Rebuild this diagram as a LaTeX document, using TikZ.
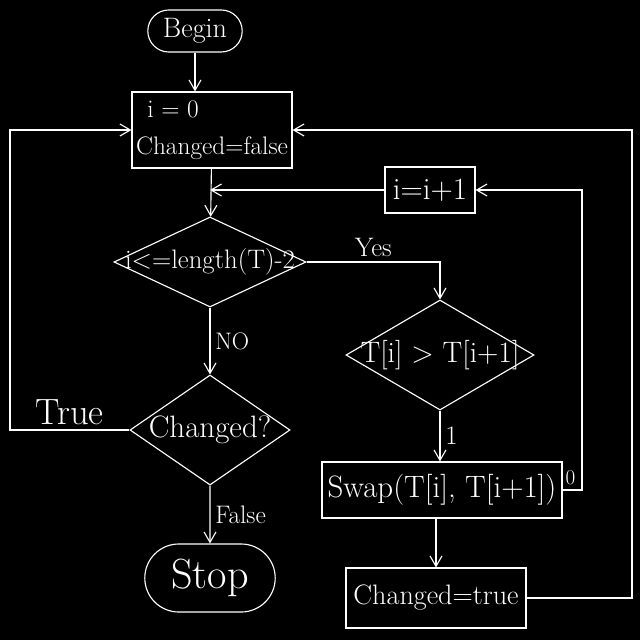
\documentclass[tikz,border=0pt]{standalone}
\usepackage{fontspec}
\usepackage{tikz}
\usetikzlibrary{arrows.meta,positioning,shapes.geometric,shapes.misc}

\newcommand{\fs}[1]{\fontsize{#1}{#1}\selectfont}

\begin{document}
\begin{tikzpicture}[
  x={(0.025cm,0)}, y={(0,-0.025cm)},
  font=\fs{19}, every node/.style={text=white},
  line width=0.8pt, draw=white,
  term/.style={draw, rounded rectangle, inner sep=2pt},
  box/.style={draw, rectangle, inner sep=4pt},
  test/.style={draw, diamond, inner sep=0pt},
  arr/.style={-{Straight Barb[length=2.6mm, width=3mm]}}]
  \fill[black] (0,0) rectangle (640,640);
  \useasboundingbox (0,0) rectangle (640,640);
  % main column
  \node[term, minimum width=2.5cm, minimum height=1.05cm, font=\fs{20}] (begin) at (195,31) {Begin};
  \node[box, minimum width=4cm, minimum height=1.9cm, inner sep=2pt, align=left, font=\fs{18}] (init) at (212,130) {\hspace*{8pt}i = 0\\[8pt] Changed=false};
  \node[test, minimum width=4.8cm, minimum height=2.25cm] (loop) at (210,262) {\makebox[0pt]{i<=length(T)-2}};
  \node[test, minimum width=4.0cm, minimum height=2.75cm, font=\fs{22}] (chk) at (210,430) {\makebox[0pt]{Changed?}};
  \node[term, minimum width=3.4cm, minimum height=1.7cm, font=\fs{30}] (stop) at (210,578) {Stop};
  % right column
  \node[box, minimum width=2.25cm, minimum height=1.15cm, font=\fs{22}] (inc) at (430,190) {i=i+1};
  \node[test, minimum width=4.7cm, minimum height=2.75cm, font=\fs{21}] (cmp) at (440,355) {\makebox[0pt]{T[i] > T[i+1]}};
  \node[box, minimum width=5.8cm, minimum height=1.4cm, font=\fs{22}] (swap) at (442,490) {Swap(T[i], T[i+1])};
  \node[box, minimum width=4.5cm, minimum height=1.5cm, font=\fs{20}] (settrue) at (436,598) {Changed=true};
  % corners of the loops
  \coordinate (leftrail) at (10,0);
  \coordinate (midrail) at (582,0);
  \coordinate (rightrail) at (632,0);

  \draw[arr] (begin.south) -- (begin.south |- init.north);
  \draw[arr] (init) -- (loop);
  \draw[arr] (loop.east) -| node[pos=0.25, above] (yes) {Yes} (cmp.north);
  \draw[arr] (loop) -- node[right, font=\fs{17}] (no) {NO} (chk);
  \draw[arr] (chk.west) -- node[above, font=\fs{26}] (true) {True} (chk.west -| leftrail) |- (init.west);
  \draw[arr] (chk) -- node[right, font=\fs{18}] (false) {False} (stop);
  \draw[arr] (cmp.south) -- node[right] (one) {1} (cmp.south |- swap.north);
  \draw[arr] (swap.east) -- node[above, pos=0.4, font=\fs{15}] (zero) {0} (swap.east -| midrail) |- (inc.east);
  \draw[arr] (inc.west) -- (inc.west -| loop.north);
  \draw[arr] (swap.south -| settrue.north) -- (settrue);
  \draw[arr] (settrue.east) -- (settrue.east -| rightrail) |- (init.east);
\end{tikzpicture}
\end{document}
